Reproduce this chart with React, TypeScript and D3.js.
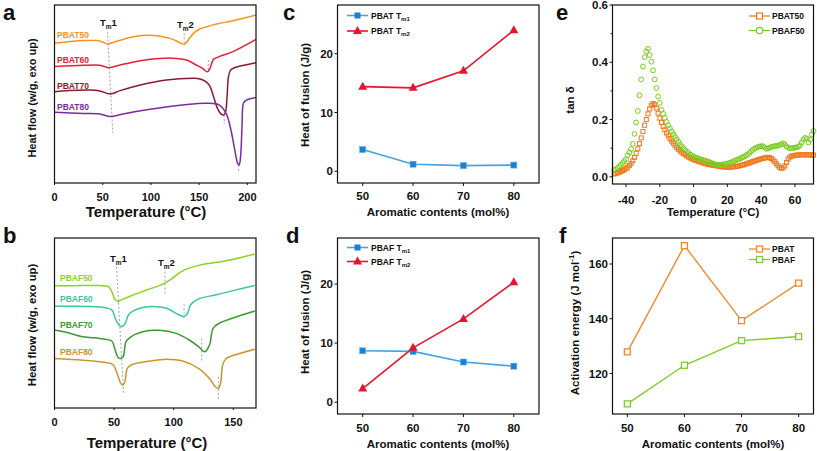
import * as d3 from 'd3';

type Pt = [number, number];
type Sc = d3.ScaleLinear<number, number>;

const FONT = 'Arial, "Liberation Sans", sans-serif';

// ---------- a: DSC of PBAT (T in °C, heat flow in arbitrary units, exo up)
const pbatNames = ['PBAT50', 'PBAT60', 'PBAT70', 'PBAT80'];
const pbatColors = ['#f7931e', '#e5203a', '#8c1a2c', '#7a2c9e'];
const pbat50Dsc: Pt[] = [[0, 78.5], [30, 80.0], [44, 80.0], [50, 79.2], [55, 78.1], [63, 79.4], [82, 82.2], [99, 83.0], [116, 81.8], [123, 80.7], [130, 78.8], [134.5, 77.9], [137, 79.0], [140, 81.3], [145, 84.5], [150, 86.4], [158, 87.8], [168, 89.3], [185, 91.2], [209, 94.4]];
const pbat60Dsc: Pt[] = [[0, 65.4], [30, 66.1], [47, 66.1], [56, 64.8], [68, 66.3], [89, 68.7], [109, 70.0], [127, 70.0], [137, 69.1], [147, 66.3], [154, 64.2], [158.5, 62.5], [161, 64.0], [163, 67.2], [165, 69.5], [171, 71.0], [185, 73.8], [209, 80.7]];
const pbat70Dsc: Pt[] = [[0, 51.3], [15, 51.9], [37, 52.2], [47, 51.7], [58, 50.0], [68, 51.9], [89, 55.1], [116, 57.9], [144, 58.8], [150, 58.6], [157, 57.0], [161, 54.5], [165, 48.5], [169, 41.9], [172.5, 38.8], [175.5, 38.2], [177.5, 40.1], [179, 48.7], [180.5, 59.9], [182.5, 63.3], [186, 64.6], [209, 67.6]];
const pbat80Dsc: Pt[] = [[0, 39.7], [30, 39.1], [47, 38.8], [58, 37.3], [71, 38.8], [99, 41.4], [133, 43.8], [158, 44.8], [171, 43.8], [178, 39.1], [183, 29.8], [187, 18.5], [190, 11.0], [191.5, 10.1], [193, 14.8], [194.5, 31.6], [196, 44.8], [199, 46.6], [209, 48.1]];
const pbatTm1Guide: Pt[] = [[55, 85], [60.5, 28]];
const pbatTm2Guides: [number, number, number][] = [[134.5, 84, 77.5], [159.5, 69.1, 62.5], [176, 38.2, 33.1], [191, 10.1, 6.0]];

// ---------- b: DSC of PBAF
const pbafNames = ['PBAF50', 'PBAF60', 'PBAF70', 'PBAF80'];
const pbafColors = ['#8cd321', '#3cc6a0', '#3b9a2e', '#c8962c'];
const pbaf50Dsc: Pt[] = [[0, 71.9], [24, 72.0], [38, 72.0], [45, 71.5], [48, 68.5], [50.5, 64.2], [53, 62.6], [56, 63.6], [66, 66.5], [80, 70.1], [92, 73.2], [99, 76.4], [107.5, 80.7], [121, 83.9], [144, 86.6], [168, 90.6]];
const pbaf60Dsc: Pt[] = [[0, 59.8], [38, 59.4], [48, 57.7], [50.5, 53.7], [53, 49.8], [56, 47.8], [59, 49.4], [62, 54.7], [66, 57.1], [74, 59.1], [85, 59.6], [94, 58.7], [100.5, 56.3], [106, 54.3], [109, 53.9], [112, 56.3], [114, 60.6], [121, 64.2], [135, 66.5], [149, 68.9], [168, 72.0]];
const pbaf70Dsc: Pt[] = [[0, 45.9], [10, 44.5], [24, 41.9], [38, 40.9], [48, 39.4], [50.5, 35.0], [53, 30.1], [55, 29.1], [57.5, 30.1], [60, 39.0], [64, 41.9], [74, 44.9], [88, 45.7], [102, 43.9], [113, 40.0], [121, 36.0], [126, 33.1], [130, 37.0], [133, 46.9], [138, 49.8], [149, 52.8], [168, 57.1]];
const pbaf80Dsc: Pt[] = [[0, 29.1], [24, 28.1], [38, 27.2], [49, 25.6], [52, 21.3], [55, 15.4], [57, 13.4], [59, 15.4], [61, 23.2], [64, 25.2], [80, 27.6], [94, 28.7], [107.5, 27.6], [121, 23.2], [130, 17.3], [135, 12.4], [137.5, 11.4], [139.5, 15.4], [141, 25.2], [144, 29.1], [149, 30.7], [168, 34.6]];
const pbafTm1Guide: Pt[] = [[52, 83], [58, 8]];
const pbafTm2Guides: [number, number, number][] = [[92.7, 80.3, 66.1], [108.7, 61.0, 53.0], [123.5, 40.9, 27.6], [137.4, 18.3, 4.5]];

// ---------- c, d: heat of fusion
const aromatic = [50, 60, 70, 80];
const pbatTm1Heat = [3.7, 1.2, 0.95, 1.05];
const pbatTm2Heat = [14.4, 14.2, 17.1, 24.0];
const pbafTm1Heat = [8.7, 8.6, 6.8, 6.1];
const pbafTm2Heat = [2.3, 9.2, 14.1, 20.3];

// ---------- e: tan delta (DMA)
const dmaTemp = [-47, -46, -45, -44, -43, -42, -41, -40, -39, -38, -37, -36, -35, -34, -33, -32, -31, -30, -29, -28, -27, -26, -25, -24, -23, -22, -21, -20, -19, -18, -17, -16, -15, -14, -13, -12, -11, -10, -9, -8, -7, -6, -5, -4, -3, -2, -1, 0, 1, 2, 3, 4, 5, 6, 7, 8, 9, 10, 11, 12, 13, 14, 15, 16, 17, 18, 19, 20, 21, 22, 23, 24, 25, 26, 27, 28, 29, 30, 31, 32, 33, 34, 35, 36, 37, 38, 39, 40, 41, 42, 43, 44, 45, 46, 47, 48, 49, 50, 51, 52, 53, 54, 55, 56, 57, 58, 59, 60, 61, 62, 63, 64, 65, 66, 67, 68, 69, 70, 71];
const pbat50Tan = [
  0.010, 0.012, 0.014, 0.016, 0.019, 0.022, 0.025, 0.029, 0.034, 0.040,
  0.047, 0.056, 0.068, 0.082, 0.098, 0.116, 0.136, 0.158, 0.180, 0.200,
  0.220, 0.237, 0.250, 0.256, 0.252, 0.240, 0.222, 0.205, 0.190, 0.176,
  0.164, 0.153, 0.143, 0.134, 0.125, 0.117, 0.109, 0.102, 0.096, 0.091,
  0.086, 0.081, 0.077, 0.073, 0.069, 0.066, 0.063, 0.060, 0.058, 0.056,
  0.054, 0.052, 0.050, 0.048, 0.046, 0.045, 0.043, 0.042, 0.041, 0.040,
  0.039, 0.038, 0.037, 0.036, 0.035, 0.035, 0.034, 0.034, 0.034, 0.034,
  0.035, 0.035, 0.036, 0.037, 0.038, 0.040, 0.041, 0.043, 0.045, 0.047,
  0.049, 0.051, 0.053, 0.055, 0.057, 0.059, 0.061, 0.063, 0.064, 0.066,
  0.067, 0.068, 0.067, 0.064, 0.059, 0.053, 0.046, 0.039, 0.033, 0.030,
  0.031, 0.038, 0.050, 0.062, 0.069, 0.072, 0.074, 0.075, 0.076, 0.076,
  0.077, 0.077, 0.077, 0.077, 0.077, 0.077, 0.076, 0.076, 0.076];
const pbaf50Tan = [
  0.024, 0.027, 0.031, 0.036, 0.042, 0.048, 0.055, 0.062, 0.075, 0.085,
  0.097, 0.115, 0.150, 0.190, 0.230, 0.285, 0.340, 0.385, 0.418, 0.438,
  0.447, 0.425, 0.402, 0.372, 0.340, 0.310, 0.280, 0.258, 0.234, 0.220,
  0.206, 0.192, 0.180, 0.169, 0.159, 0.149, 0.140, 0.131, 0.122, 0.113,
  0.106, 0.099, 0.093, 0.088, 0.083, 0.078, 0.074, 0.071, 0.068, 0.066,
  0.064, 0.062, 0.060, 0.058, 0.056, 0.054, 0.052, 0.050, 0.047, 0.045,
  0.043, 0.042, 0.042, 0.042, 0.043, 0.044, 0.045, 0.046, 0.048, 0.050,
  0.052, 0.055, 0.058, 0.060, 0.062, 0.065, 0.068, 0.071, 0.074, 0.078,
  0.083, 0.089, 0.094, 0.098, 0.101, 0.104, 0.106, 0.107, 0.107, 0.103,
  0.098, 0.099, 0.102, 0.104, 0.106, 0.107, 0.108, 0.109, 0.111, 0.114,
  0.117, 0.113, 0.106, 0.102, 0.100, 0.100, 0.101, 0.102, 0.103, 0.105,
  0.110, 0.120, 0.130, 0.136, 0.134, 0.120, 0.130, 0.148, 0.160];

// ---------- f: activation energy
const pbatEa = [127.9, 166.7, 139.3, 153.0];
const pbafEa = [108.9, 123.0, 132.0, 133.5];

// scales
const xA = d3.scaleLinear().domain([0, 209]).range([54.5, 256]);
const yA = d3.scaleLinear().domain([0, 100]).range([183, 5]);
const xB = d3.scaleLinear().domain([0, 169]).range([54.5, 256]);
const yB = d3.scaleLinear().domain([0, 100]).range([408, 238]);
const xC = d3.scaleLinear().domain([45, 85]).range([337.5, 539]);
const yC = d3.scaleLinear().domain([-2, 28.3]).range([183, 5]);
const yD = d3.scaleLinear().domain([-2, 27.8]).range([414, 238]);
const xE = d3.scaleLinear().domain([-48, 71]).range([612.5, 813.5]);
const yE = d3.scaleLinear().domain([-0.025, 0.6]).range([184, 5]);
const xF = d3.scaleLinear().domain([47.4, 82.6]).range([612.5, 813.5]);
const yF = d3.scaleLinear().domain([105.2, 169.5]).range([414, 238]);

function Axes({ x, y, xTicks, yTicks = [], xBase, yRight = 0, fs, yFmt = (v: number) => String(v), tick = 3 }:
  { x: Sc; y: Sc; xTicks: number[]; yTicks?: number[]; xBase: number; yRight?: number; fs: number; yFmt?: (v: number) => string; tick?: number }) {
  const [x0, x1] = x.range();
  const [y0, y1] = y.range();
  return (
    <g fontFamily={FONT} fontWeight="bold" fill="#111">
      <rect x={x0} y={y1} width={x1 - x0} height={y0 - y1} fill="none" stroke="#111" strokeWidth={1.2} />
      {xTicks.map(t => (
        <g key={'x' + t}>
          <line x1={x(t)} x2={x(t)} y1={y0} y2={y0 + tick} stroke="#111" />
          <text x={x(t)} y={xBase} textAnchor="middle" fontSize={fs}>{t}</text>
        </g>
      ))}
      {yTicks.map(t => (
        <g key={'y' + t}>
          <line x1={x0 - tick} x2={x0} y1={y(t)} y2={y(t)} stroke="#111" />
          <text x={yRight} y={y(t) + fs * 0.36} textAnchor="end" fontSize={fs}>{yFmt(t)}</text>
        </g>
      ))}
    </g>
  );
}

function Tm({ x, y, n }: { x: number; y: number; n: string }) {
  return (
    <text x={x} y={y} fontFamily={FONT} fontWeight="bold" fontSize={9.5} fill="#111">
      T<tspan fontSize={6.5} dy={2.5}>m</tspan><tspan dy={-2.5}>{n}</tspan>
    </text>
  );
}

function DscPanel({ x, y, curves, names, colors, tm1, tm2, labelX, labelYs, tmPos }:
  { x: Sc; y: Sc; curves: Pt[][]; names: string[]; colors: string[]; tm1: Pt[]; tm2: [number, number, number][]; labelX: number; labelYs: number[]; tmPos: number[][] }) {
  const smooth = d3.line<Pt>().x(d => x(d[0])).y(d => y(d[1])).curve(d3.curveCatmullRom.alpha(0.5));
  const straight = d3.line<Pt>().x(d => x(d[0])).y(d => y(d[1]));
  return (
    <g>
      <path d={straight(tm1) ?? ''} stroke="#9aa4ae" strokeWidth={1} strokeDasharray="2,2" fill="none" />
      {tm2.map((g, i) => (
        <line key={i} x1={x(g[0])} x2={x(g[0])} y1={y(g[1])} y2={y(g[2])} stroke="#9aa4ae" strokeWidth={1} strokeDasharray="2,2" />
      ))}
      {curves.map((c, i) => (
        <path key={names[i]} d={smooth(c) ?? ''} stroke={colors[i]} strokeWidth={1.5} fill="none" />
      ))}
      {names.map((n, i) => (
        <text key={n} x={labelX} y={labelYs[i]} fill={colors[i]} fontFamily={FONT} fontWeight="bold" fontSize={8.5}>{n}</text>
      ))}
      <Tm x={tmPos[0][0]} y={tmPos[0][1]} n="1" />
      <Tm x={tmPos[1][0]} y={tmPos[1][1]} n="2" />
    </g>
  );
}

function HeatPanel({ y, tm1, tm2, name, legY }: { y: Sc; tm1: number[]; tm2: number[]; name: string; legY: number[] }) {
  const x = xC;
  const l1 = d3.line<number>().x((_, i) => x(aromatic[i])).y(d => y(d));
  const tri = (cx: number, cy: number) => `M${cx},${cy - 5}L${cx + 4.5},${cy + 3}L${cx - 4.5},${cy + 3}Z`;
  const blue = '#1f7fd6';
  const red = '#e8142c';
  return (
    <g>
      <path d={l1(tm1) ?? ''} stroke="#45a2e0" strokeWidth={1.6} fill="none" />
      <path d={l1(tm2) ?? ''} stroke={red} strokeWidth={1.6} fill="none" />
      {tm1.map((v, i) => <rect key={'s' + i} x={x(aromatic[i]) - 3} y={y(v) - 3} width={6} height={6} fill={blue} stroke="#5ab0ea" strokeWidth={0.6} />)}
      {tm2.map((v, i) => <path key={'t' + i} d={tri(x(aromatic[i]), y(v))} fill={red} />)}
      <line x1={347} x2={368} y1={legY[0]} y2={legY[0]} stroke="#45a2e0" strokeWidth={1.6} />
      <rect x={354.5} y={legY[0] - 3} width={6} height={6} fill={blue} />
      <line x1={347} x2={368} y1={legY[1]} y2={legY[1]} stroke={red} strokeWidth={1.6} />
      <path d={tri(357.5, legY[1])} fill={red} />
      {[0, 1].map(k => (
        <text key={k} x={371} y={legY[k] + 3.2} fontFamily={FONT} fontWeight="bold" fontSize={8.5} fill="#111">
          {name} T<tspan fontSize={6} dy={2}>{'m' + (k + 1)}</tspan>
        </text>
      ))}
    </g>
  );
}

function TanPanel() {
  const orange = '#f5761a';
  const green = '#7acc1c';
  return (
    <g>
      {pbat50Tan.map((v, i) => (
        <rect key={'o' + i} x={xE(dmaTemp[i]) - 2} y={yE(v) - 2} width={4} height={4} fill="none" stroke={orange} strokeWidth={1} />
      ))}
      {pbaf50Tan.map((v, i) => (
        <circle key={'g' + i} cx={xE(dmaTemp[i])} cy={yE(v)} r={2.4} fill="none" stroke={green} strokeWidth={1} />
      ))}
      <line x1={749} x2={770} y1={16} y2={16} stroke={orange} strokeWidth={1.2} />
      <rect x={756.5} y={13} width={6} height={6} fill="white" stroke={orange} strokeWidth={1.2} />
      <line x1={749} x2={770} y1={30.5} y2={30.5} stroke={green} strokeWidth={1.2} />
      <circle cx={759.5} cy={30.5} r={3.2} fill="white" stroke={green} strokeWidth={1.2} />
      <text x={772} y={19} fontFamily={FONT} fontWeight="bold" fontSize={8.5} fill="#111">PBAT50</text>
      <text x={772} y={33.5} fontFamily={FONT} fontWeight="bold" fontSize={8.5} fill="#111">PBAF50</text>
    </g>
  );
}

function EaPanel() {
  const orange = '#f58a2a';
  const green = '#80cc28';
  const l = d3.line<number>().x((_, i) => xF(aromatic[i])).y(d => yF(d));
  return (
    <g>
      <path d={l(pbatEa) ?? ''} stroke={orange} strokeWidth={1.4} fill="none" />
      <path d={l(pbafEa) ?? ''} stroke={green} strokeWidth={1.4} fill="none" />
      {pbatEa.map((v, i) => <rect key={'o' + i} x={xF(aromatic[i]) - 3} y={yF(v) - 3} width={6} height={6} fill="white" stroke={orange} strokeWidth={1.3} />)}
      {pbafEa.map((v, i) => <rect key={'g' + i} x={xF(aromatic[i]) - 3} y={yF(v) - 3} width={6} height={6} fill="white" stroke={green} strokeWidth={1.3} />)}
      <line x1={749} x2={770} y1={249} y2={249} stroke={orange} strokeWidth={1.3} />
      <rect x={756.5} y={246} width={6} height={6} fill="white" stroke={orange} strokeWidth={1.3} />
      <line x1={749} x2={770} y1={259.5} y2={259.5} stroke={green} strokeWidth={1.3} />
      <rect x={756.5} y={256.5} width={6} height={6} fill="white" stroke={green} strokeWidth={1.3} />
      <text x={772} y={252} fontFamily={FONT} fontWeight="bold" fontSize={8.5} fill="#111">PBAT</text>
      <text x={772} y={262.5} fontFamily={FONT} fontWeight="bold" fontSize={8.5} fill="#111">PBAF</text>
    </g>
  );
}

function YTitle({ x, y, fs, children }: { x: number; y: number; fs: number; children: React.ReactNode }) {
  return (
    <text transform={`translate(${x},${y}) rotate(-90)`} textAnchor="middle" dominantBaseline="central"
      fontFamily={FONT} fontWeight="bold" fontSize={fs} fill="#111">{children}</text>
  );
}

function XTitle({ x, y, fs, children }: { x: number; y: number; fs: number; children: React.ReactNode }) {
  return <text x={x} y={y} textAnchor="middle" fontFamily={FONT} fontWeight="bold" fontSize={fs} fill="#111">{children}</text>;
}

export default function App() {
  const letters: [string, number, number][] = [['a', 3, 20], ['b', 3, 243], ['c', 283, 20], ['d', 286, 243], ['e', 556, 20], ['f', 559, 243]];
  return (
    <svg width={817} height={451} style={{ position: 'absolute', left: 0, top: 0, background: 'white' }}>
      {letters.map(([t, x, y]) => (
        <text key={t} x={x} y={y} fontFamily={FONT} fontWeight="bold" fontSize={22} fill="#111">{t}</text>
      ))}

      {/* a */}
      <DscPanel x={xA} y={yA} curves={[pbat50Dsc, pbat60Dsc, pbat70Dsc, pbat80Dsc]} names={pbatNames} colors={pbatColors}
        tm1={pbatTm1Guide} tm2={pbatTm2Guides} labelX={57} labelYs={[38, 63, 89, 110]} tmPos={[[100, 26], [177, 28]]} />
      <Axes x={xA} y={yA} xTicks={[0, 50, 100, 150, 200]} xBase={201} fs={11} tick={2} />
      <XTitle x={146} y={217} fs={15}>Temperature (°C)</XTitle>
      <YTitle x={32} y={98} fs={11}>Heat flow (w/g, exo up)</YTitle>

      {/* b */}
      <DscPanel x={xB} y={yB} curves={[pbaf50Dsc, pbaf60Dsc, pbaf70Dsc, pbaf80Dsc]} names={pbafNames} colors={pbafColors}
        tm1={pbafTm1Guide} tm2={pbafTm2Guides} labelX={60} labelYs={[281, 302, 328, 355]} tmPos={[[110, 262], [158, 266]]} />
      <Axes x={xB} y={yB} xTicks={[0, 50, 100, 150]} xBase={425.5} fs={11} tick={2} />
      <XTitle x={147} y={448} fs={15}>Temperature (°C)</XTitle>
      <YTitle x={32} y={325} fs={11.3}>Heat flow (w/g, exo up)</YTitle>

      {/* c */}
      <HeatPanel y={yC} tm1={pbatTm1Heat} tm2={pbatTm2Heat} name="PBAT" legY={[15.5, 31]} />
      <Axes x={xC} y={yC} xTicks={aromatic} yTicks={[0, 10, 20]} xBase={200} yRight={333} fs={11.5} />
      <XTitle x={438} y={216} fs={11.5}>Aromatic contents (mol%)</XTitle>
      <YTitle x={305} y={95} fs={11.5}>Heat of fusion (J/g)</YTitle>

      {/* d */}
      <HeatPanel y={yD} tm1={pbafTm1Heat} tm2={pbafTm2Heat} name="PBAF" legY={[247.5, 261.5]} />
      <Axes x={xC} y={yD} xTicks={aromatic} yTicks={[0, 10, 20]} xBase={431.5} yRight={333} fs={11.5} />
      <XTitle x={438} y={447.5} fs={11.5}>Aromatic contents (mol%)</XTitle>
      <YTitle x={305} y={322} fs={11.5}>Heat of fusion (J/g)</YTitle>

      {/* e */}
      <TanPanel />
      <Axes x={xE} y={yE} xTicks={[-40, -20, 0, 20, 40, 60]} yTicks={[0, 0.2, 0.4, 0.6]} xBase={204} yRight={608} fs={11.5} yFmt={d3.format('.1f')} />
      {[0.1, 0.3, 0.5].map(t => <line key={t} x1={610.5} x2={612.5} y1={yE(t)} y2={yE(t)} stroke="#111" />)}
      <XTitle x={713} y={216} fs={11.5}>Temperature (°C)</XTitle>
      <YTitle x={570} y={100} fs={11.5}>tan δ</YTitle>

      {/* f */}
      <EaPanel />
      <Axes x={xF} y={yF} xTicks={aromatic} yTicks={[120, 140, 160]} xBase={432} yRight={608} fs={11.5} />
      <XTitle x={713} y={447.5} fs={11.5}>Aromatic contents (mol%)</XTitle>
      <YTitle x={575} y={323} fs={11.5}>Activation energy (J mol<tspan fontSize={8} dy={-4}>-1</tspan><tspan dy={4}>)</tspan></YTitle>
    </svg>
  );
}
